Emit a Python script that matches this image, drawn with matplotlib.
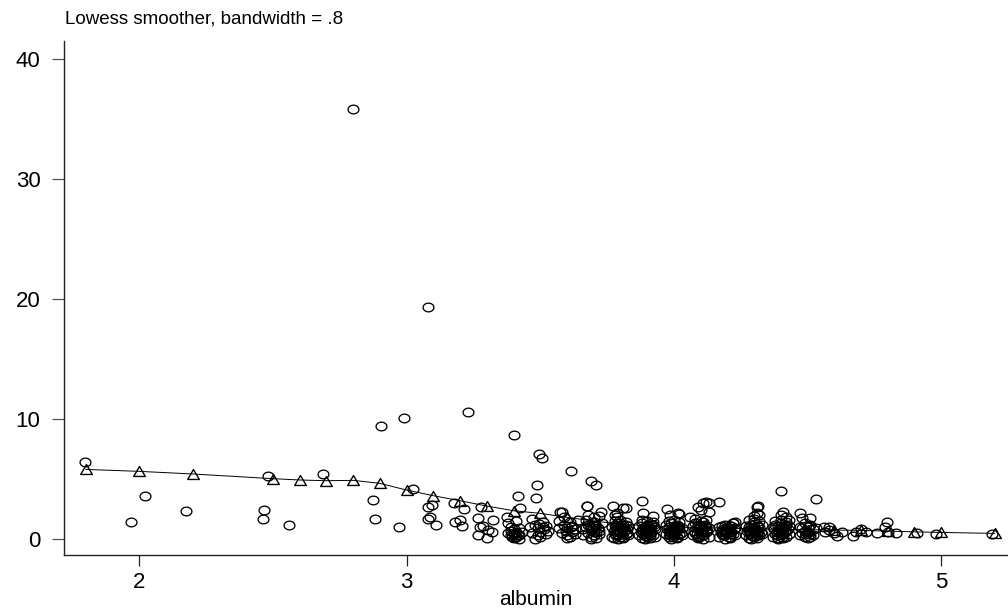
import numpy as np
import matplotlib
matplotlib.use("Agg")
import matplotlib.pyplot as plt
from matplotlib.path import Path

plt.rcParams['font.family'] = ['Liberation Sans', 'DejaVu Sans']

# scatter points (jittered albumin), grouped by albumin level
alb_low = [1.798, 2.02, 1.97, 2.175, 2.468, 2.464, 2.483, 2.56, 2.687,
           2.80, 3.08, 2.99, 3.23, 2.905, 2.873, 2.883, 2.97,
           3.025, 3.08, 3.094, 3.08, 3.087, 3.109,
           3.177, 3.216, 3.18, 3.20, 3.206,
           3.28, 3.324, 3.266, 3.275, 3.287, 3.306, 3.318, 3.268, 3.30]
bili_low = [6.4, 3.56, 1.39, 2.33, 2.42, 1.64, 5.25, 1.17, 5.39,
            35.8, 19.3, 10.06, 10.6, 9.4, 3.25, 1.67, 1.03,
            4.17, 2.64, 2.83, 1.67, 1.86, 1.17,
            3.03, 2.5, 1.44, 1.58, 1.08,
            2.64, 1.58, 1.78, 1.03, 1.08, 0.75, 0.61, 0.33, 0.06]

alb_34 = [3.39, 3.40, 3.41, 3.42, 3.40, 3.39, 3.41, 3.42, 3.40, 3.43,
          3.38, 3.375, 3.424, 3.416, 3.40, 3.38, 3.41, 3.40, 3.42, 3.39,
          3.395, 3.405, 3.415]
bili_34 = [1.0, 0.8, 0.6, 0.9, 0.4, 0.3, 0.2, 0.3, 0.1, 0.6,
           0.5, 1.86, 2.56, 3.6, 8.7, 1.3, 1.5, 0.5, 0.0, 0.7,
           0.2, 0.15, 0.35]

alb_35 = [3.47, 3.48, 3.49, 3.50, 3.51, 3.52, 3.47, 3.49, 3.51, 3.46,
          3.50, 3.52, 3.487, 3.485, 3.496, 3.505, 3.48, 3.53, 3.495, 3.515]
bili_35 = [1.7, 1.2, 0.9, 0.6, 1.0, 0.4, 0.5, 0.3, 1.4, 1.0,
           0.2, 1.1, 4.5, 3.39, 7.06, 6.78, 0.0, 0.7, 1.25, 0.85]

alb_36 = [3.58, 3.57, 3.59, 3.60, 3.61, 3.62, 3.58, 3.60, 3.62, 3.63,
          3.57, 3.61, 3.64, 3.59, 3.614, 3.574, 3.60, 3.63, 3.595, 3.615]
bili_36 = [2.28, 1.5, 1.2, 0.9, 1.4, 0.6, 0.5, 0.3, 1.1, 0.8,
           0.9, 0.2, 1.6, 1.8, 5.69, 2.22, 0.1, 0.4, 0.65, 1.0]

alb_37 = [3.67, 3.68, 3.69, 3.70, 3.71, 3.72, 3.66, 3.68, 3.70, 3.72,
          3.69, 3.71, 3.67, 3.73, 3.70, 3.68, 3.72, 3.66, 3.674, 3.676,
          3.69, 3.708, 3.727, 3.69, 3.71, 3.70, 3.685, 3.695, 3.705, 3.715]
bili_37 = [1.6, 1.2, 0.9, 1.4, 1.1, 0.7, 0.8, 0.5, 0.3, 0.4,
           0.2, 0.6, 1.0, 1.3, 1.8, 2.0, 1.9, 0.3, 2.75, 2.78,
           4.83, 4.5, 2.28, 0.0, 0.1, 0.6, 1.05, 0.75, 1.15, 0.95]

alb_38 = [3.77, 3.78, 3.79, 3.80, 3.81, 3.82, 3.83,
          3.775, 3.785, 3.795, 3.805, 3.815, 3.825,
          3.77, 3.78, 3.79, 3.80, 3.81, 3.82, 3.83,
          3.775, 3.79, 3.80, 3.81, 3.825,
          3.78, 3.80, 3.82,
          3.785, 3.795, 3.805, 3.815, 3.79, 3.81, 3.80, 3.785,
          3.773, 3.81, 3.786, 3.78, 3.786, 3.82]
bili_38 = [0.2, 0.4, 0.3, 0.5, 0.2, 0.4, 0.3,
           0.7, 0.8, 0.6, 0.9, 0.7, 0.8,
           1.0, 1.2, 1.1, 1.3, 1.0, 1.2, 1.1,
           0.1, 0.0, 0.2, 0.1, 0.5,
           1.5, 1.6, 1.4,
           0.35, 0.55, 0.45, 0.95, 0.85, 1.15, 0.65, 1.05,
           2.75, 2.56, 2.14, 2.0, 1.86, 2.56]

alb_39 = [3.87, 3.88, 3.89, 3.90, 3.91, 3.92, 3.93,
          3.875, 3.885, 3.895, 3.905, 3.915, 3.925,
          3.87, 3.88, 3.89, 3.90, 3.91, 3.92, 3.93,
          3.88, 3.90, 3.92, 3.89, 3.91, 3.90,
          3.885, 3.895, 3.905, 3.915, 3.89, 3.91, 3.90, 3.88,
          3.88, 3.886, 3.92]
bili_39 = [0.3, 0.1, 0.4, 0.2, 0.5, 0.3, 0.2,
           0.6, 0.9, 0.7, 0.8, 0.6, 1.0,
           1.1, 1.3, 1.0, 1.2, 0.9, 1.4, 0.8,
           1.6, 1.5, 1.2, 0.0, 0.1, 0.5,
           0.45, 0.25, 0.65, 1.15, 0.85, 0.35, 1.05, 0.75,
           3.19, 2.14, 1.9]

alb_40 = [3.97, 3.98, 3.99, 4.00, 4.01, 4.02, 4.03,
          3.975, 3.985, 3.995, 4.005, 4.015, 4.025,
          3.97, 3.98, 3.99, 4.00, 4.01, 4.02, 4.03,
          3.98, 4.00, 4.02, 3.99, 4.01,
          3.985, 3.995, 4.005, 4.015, 3.99, 4.01, 4.00, 3.98,
          3.973, 4.016, 3.985, 4.02]
bili_40 = [0.4, 0.2, 0.5, 0.3, 0.1, 0.4, 0.3,
           0.8, 0.6, 0.9, 0.7, 0.8, 0.5,
           1.2, 1.0, 1.3, 1.1, 1.2, 1.0, 0.9,
           1.5, 1.6, 1.4, 0.0, 0.2,
           0.35, 0.15, 0.55, 1.05, 0.75, 0.95, 0.45, 0.65,
           2.47, 2.14, 2.0, 2.06]

alb_41 = [4.07, 4.08, 4.09, 4.10, 4.11, 4.12, 4.13,
          4.075, 4.085, 4.095, 4.105, 4.115, 4.125,
          4.07, 4.08, 4.09, 4.10, 4.11, 4.12, 4.13,
          4.08, 4.10, 4.12, 4.09, 4.11,
          4.085, 4.095, 4.105, 4.115, 4.09, 4.11, 4.10, 4.12,
          4.11, 4.13, 4.09, 4.10, 4.12, 4.13, 4.06]
bili_41 = [0.3, 0.5, 0.2, 0.4, 0.3, 0.6, 0.2,
           0.7, 0.9, 0.8, 0.6, 1.0, 0.7,
           1.1, 1.3, 1.2, 1.0, 1.4, 1.1, 0.9,
           1.7, 1.5, 1.6, 0.1, 0.0,
           0.45, 0.25, 0.55, 1.15, 0.85, 0.35, 1.05, 0.75,
           2.97, 2.97, 2.69, 2.42, 3.06, 2.28, 1.86]

alb_42 = [4.17, 4.18, 4.19, 4.20, 4.21, 4.22, 4.23,
          4.175, 4.185, 4.195, 4.205, 4.215, 4.225,
          4.17, 4.18, 4.19, 4.20, 4.21, 4.22, 4.23,
          4.185, 4.195, 4.205, 4.215, 4.19, 4.21, 4.20, 4.18,
          4.19, 4.21, 4.17, 4.23, 4.22]
bili_42 = [0.2, 0.4, 0.3, 0.5, 0.2, 0.4, 0.3,
           0.6, 0.8, 0.7, 0.9, 0.6, 0.8,
           1.0, 1.1, 1.2, 1.0, 1.1, 1.3, 0.9,
           0.35, 0.55, 0.15, 1.05, 0.75, 0.45, 0.95, 0.65,
           0.0, 0.1, 3.11, 1.44, 1.3]

alb_43 = [4.27, 4.28, 4.29, 4.30, 4.31, 4.32, 4.33,
          4.275, 4.285, 4.295, 4.305, 4.315, 4.325,
          4.27, 4.28, 4.29, 4.30, 4.31, 4.32, 4.33,
          4.28, 4.30, 4.32, 4.29, 4.31,
          4.285, 4.295, 4.305, 4.315, 4.29, 4.31, 4.30, 4.28,
          4.316, 4.31, 4.32, 4.31, 4.30]
bili_43 = [0.3, 0.1, 0.4, 0.2, 0.5, 0.3, 0.4,
           0.7, 0.6, 0.9, 0.8, 0.7, 0.6,
           1.1, 1.0, 1.2, 1.4, 1.1, 1.0, 1.2,
           1.6, 1.7, 1.5, 0.0, 0.1,
           0.45, 0.25, 0.55, 1.05, 0.85, 0.35, 0.95, 0.75,
           2.75, 2.14, 2.0, 2.69, 1.9]

alb_44 = [4.37, 4.38, 4.39, 4.40, 4.41, 4.42, 4.43,
          4.375, 4.385, 4.395, 4.405, 4.415, 4.425,
          4.37, 4.38, 4.39, 4.40, 4.41, 4.42, 4.43,
          4.38, 4.40, 4.42, 4.39, 4.41,
          4.385, 4.395, 4.405, 4.415, 4.39, 4.41, 4.40, 4.42,
          4.40, 4.41, 4.40, 4.42, 4.43]
bili_44 = [0.2, 0.4, 0.1, 0.3, 0.5, 0.2, 0.4,
           0.8, 0.6, 0.7, 0.9, 0.6, 0.8,
           1.0, 1.2, 1.1, 1.3, 1.0, 1.2, 1.1,
           1.5, 1.6, 1.4, 0.0, 0.1,
           0.35, 0.55, 0.15, 1.05, 0.75, 0.45, 0.95, 0.65,
           4.0, 2.28, 2.0, 1.86, 1.58]

alb_45 = [4.47, 4.48, 4.49, 4.50, 4.51, 4.52, 4.48, 4.50, 4.52,
          4.49, 4.51, 4.47, 4.53, 4.47, 4.48, 4.51, 4.53, 4.50,
          4.49, 4.51, 4.495, 4.505]
bili_45 = [0.3, 0.5, 0.2, 0.6, 0.4, 0.3, 0.9, 1.0, 0.8,
           1.3, 1.2, 1.0, 3.31, 2.14, 1.72, 1.72, 0.89, 0.1,
           0.7, 0.15, 0.45, 1.1]

alb_hi = [4.58, 4.60, 4.565, 4.63, 4.61, 4.56, 4.58,
          4.72, 4.68, 4.67, 4.70,
          4.797, 4.79, 4.83, 4.76, 4.80,
          4.91, 4.98, 5.19]
bili_hi = [1.03, 0.47, 0.61, 0.61, 0.25, 1.03, 0.75,
           0.61, 0.61, 0.28, 0.8,
           1.44, 1.03, 0.47, 0.53, 0.6,
           0.47, 0.42, 0.42]

# lowess smoothed values at each albumin level
smooth_x = [1.8, 2.0, 2.2, 2.5, 2.6, 2.7, 2.8, 2.9, 3.0, 3.1, 3.2, 3.3, 3.4, 3.5, 3.6,
            3.7, 3.8, 3.9, 4.0, 4.1, 4.2, 4.3, 4.4, 4.5, 4.6, 4.7, 4.8, 4.9, 5.0, 5.2]
smooth_y = [5.8, 5.64, 5.42, 5.03, 4.92, 4.86, 4.89, 4.64, 4.08, 3.61, 3.19, 2.75, 2.36, 2.14, 1.81,
            1.5, 1.25, 1.1, 1.0, 0.95, 0.9, 0.85, 0.8, 0.78, 0.75, 0.72, 0.66, 0.6, 0.55, 0.47]

x_ticks = [2, 3, 4, 5]
y_ticks = [0, 10, 20, 30, 40]

albumin = (alb_low + alb_34 + alb_35 + alb_36 + alb_37 + alb_38 + alb_39 + alb_40
           + alb_41 + alb_42 + alb_43 + alb_44 + alb_45 + alb_hi)
bili = (bili_low + bili_34 + bili_35 + bili_36 + bili_37 + bili_38 + bili_39 + bili_40
        + bili_41 + bili_42 + bili_43 + bili_44 + bili_45 + bili_hi)

# stata-ish markers: slightly flattened circle and triangle
t = np.linspace(0, 2 * np.pi, 60)
oval = Path(np.column_stack([np.cos(t), 0.8 * np.sin(t)]))
tri = Path([(-1, -0.85), (1, -0.85), (0, 0.85), (-1, -0.85)],
           [Path.MOVETO, Path.LINETO, Path.LINETO, Path.CLOSEPOLY])

fig = plt.figure(figsize=(10.08, 6.09), dpi=100)
ax = fig.add_axes([64 / 1008, 1 - 555 / 609, 1 - 64 / 1008, (555 - 41) / 609])

ax.plot(albumin, bili, linestyle='none', marker=oval, markersize=7.8,
        markerfacecolor='none', markeredgecolor='black', markeredgewidth=0.95)
ax.plot(smooth_x, smooth_y, color='black', linewidth=0.7)
ax.plot(smooth_x, smooth_y, linestyle='none', marker=tri, markersize=8.4,
        markerfacecolor='none', markeredgecolor='black', markeredgewidth=1.0)

ax.set_xlim(1.718, 5.25)
ax.set_ylim(-1.33, 41.5)
ax.set_xticks(x_ticks)
ax.set_yticks(y_ticks)
ax.set_xticklabels([str(v) for v in x_ticks])
ax.set_yticklabels([str(v) for v in y_ticks])

for side in ['top', 'right']:
    ax.spines[side].set_visible(False)
for side in ['left', 'bottom']:
    ax.spines[side].set_color('#222222')
    ax.spines[side].set_linewidth(1.0)

ax.tick_params(axis='y', length=9, width=0.9, color='#555555', pad=8, labelsize=16)
ax.tick_params(axis='x', length=8, width=0.9, color='#222222', pad=4, labelsize=16)

ax.set_xlabel('albumin', fontsize=15, labelpad=-2)
fig.text(65 / 1008, 1 - 23 / 609, 'Lowess smoother, bandwidth = .8',
         fontsize=13.5, va='baseline', ha='left')

fig.savefig('out.png', dpi=100)
